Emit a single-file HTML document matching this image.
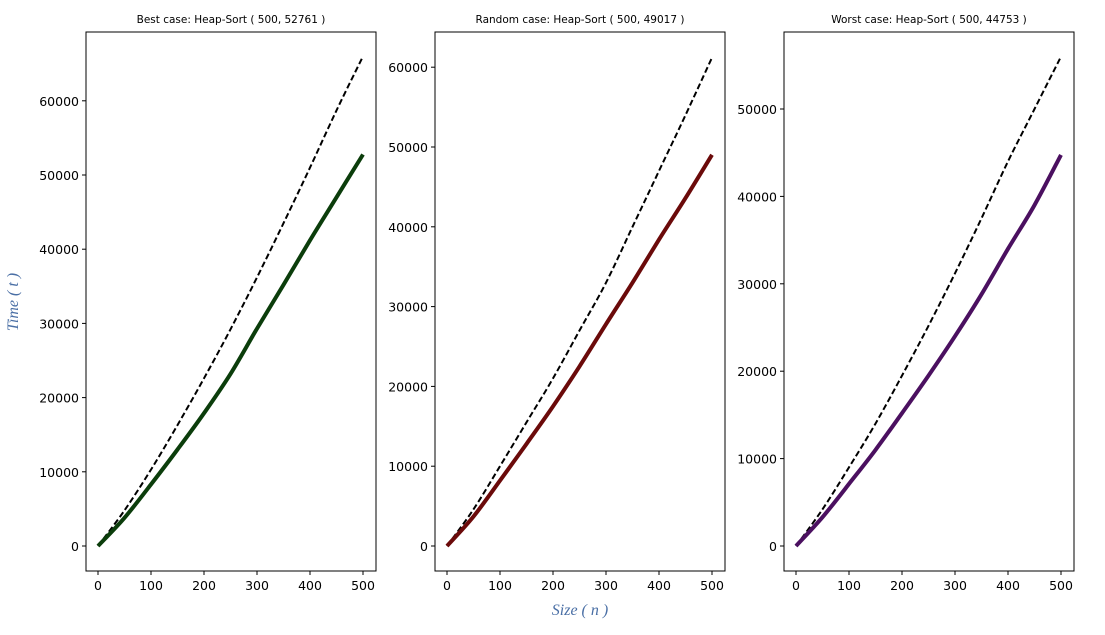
<!DOCTYPE html>
<html><head><meta charset="utf-8"><style>
body{margin:0;background:#fff;}
svg{display:block;font-family:"DejaVu Sans","Liberation Sans",sans-serif;}
</style></head><body>
<svg id="chart" width="1105" height="635"></svg>
<script>
const sizes=[0,50,100,150,200,250,300,350,400,450,500];
const bestTime=[0,3800,8300,13000,17900,23200,29300,35200,41200,47000,52761];
const bestRef=[0,4800,10300,16300,22600,29200,36200,43500,51000,58700,66000];
const randomTime=[0,3700,8200,12800,17500,22500,27800,33000,38400,43600,49017];
const randomRef=[0,4600,10000,15500,21000,27000,33000,40000,47000,54000,61200];
const worstTime=[0,3300,7100,11000,15200,19500,24000,28800,34000,39000,44753];
const worstRef=[0,4200,9000,14000,19500,25200,31200,37500,44000,50000,56000];
const xTicks=[0,100,200,300,400,500];
const bestYTicks=[0,10000,20000,30000,40000,50000,60000];
const randomYTicks=[0,10000,20000,30000,40000,50000,60000];
const worstYTicks=[0,10000,20000,30000,40000,50000];
const titles=["Best case: Heap-Sort ( 500, 52761 )","Random case: Heap-Sort ( 500, 49017 )","Worst case: Heap-Sort ( 500, 44753 )"];

const NS="http://www.w3.org/2000/svg";
const svgEl=document.getElementById('chart');
function mk(tag,attrs,parent){const e=document.createElementNS(NS,tag);for(const k in attrs)e.setAttribute(k,attrs[k]);(parent||svgEl).appendChild(e);return e;}

const panels=[
 {left:86,x0:98,x500:363,yPer10k:74.2,yTicks:bestYTicks,solid:bestTime,dash:bestRef,color:"#0b3d0b",name:"best"},
 {left:435,x0:447,x500:712,yPer10k:79.8,yTicks:randomYTicks,solid:randomTime,dash:randomRef,color:"#6b0a0a",name:"random"},
 {left:784,x0:796,x500:1061,yPer10k:87.4,yTicks:worstYTicks,solid:worstTime,dash:worstRef,color:"#4b1060",name:"worst"}
];
const axTop=32,axBottom=571,yZero=546;
function smoothPath(P){
 let d='M'+P[0][0].toFixed(1)+','+P[0][1].toFixed(1);
 for(let k=0;k<P.length-1;k++){
  const p0=P[k-1]||P[k],p1=P[k],p2=P[k+1],p3=P[k+2]||P[k+1];
  const c1=[p1[0]+(p2[0]-p0[0])/6,p1[1]+(p2[1]-p0[1])/6];
  const c2=[p2[0]-(p3[0]-p1[0])/6,p2[1]-(p3[1]-p1[1])/6];
  d+=' C'+c1.map(v=>v.toFixed(1)).join(',')+' '+c2.map(v=>v.toFixed(1)).join(',')+' '+p2.map(v=>v.toFixed(1)).join(',');
 }
 return d;
}
panels.forEach((p,i)=>{
 const g=mk('g',{});
 
 
 const xs=v=>p.x0+(p.x500-p.x0)*v/500;
 const ys=v=>yZero-p.yPer10k*v/10000;
 const t=mk('text',{x:p.left+145,y:23,'font-size':10.5,'text-anchor':'middle'},g);
 t.textContent=titles[i];
 
 
 xTicks.forEach(v=>{
  mk('line',{x1:xs(v),x2:xs(v),y1:axBottom,y2:axBottom+4,stroke:'#000'},g);
  const l=mk('text',{x:xs(v),y:axBottom+19,'font-size':12.5,'text-anchor':'middle'},g);
  l.textContent=v;
  
  
 });
 p.yTicks.forEach(v=>{
  mk('line',{x1:p.left-4,x2:p.left,y1:ys(v),y2:ys(v),stroke:'#000'},g);
  const l=mk('text',{x:p.left-7,y:ys(v)+5,'font-size':12.5,'text-anchor':'end'},g);
  l.textContent=v;
  
  
 });
 const pts=arr=>arr.map((v,k)=>[xs(sizes[k]),ys(v)]);
 const d=mk('path',{d:smoothPath(pts(p.dash)),fill:'none',stroke:'#000','stroke-width':2,'stroke-dasharray':'6,3'},g);
 
 
 const s=mk('path',{d:smoothPath(pts(p.solid)),fill:'none',stroke:p.color,'stroke-width':4},g);
 
 
 const r=mk('rect',{x:p.left,y:axTop,width:290,height:axBottom-axTop,fill:'none',stroke:'#000','stroke-width':1},g);
 
 
});
const yl=mk('text',{x:0,y:0,transform:'translate(18,302) rotate(-90)','font-size':16,'font-style':'italic','font-family':'Liberation Serif,serif',fill:'#4a6fa5','text-anchor':'middle'});
yl.textContent='Time ( t )';


const xl=mk('text',{x:580,y:615,'font-size':16,'font-style':'italic','font-family':'Liberation Serif,serif',fill:'#4a6fa5','text-anchor':'middle'});
xl.textContent='Size ( n )';


</script>
</body></html>
